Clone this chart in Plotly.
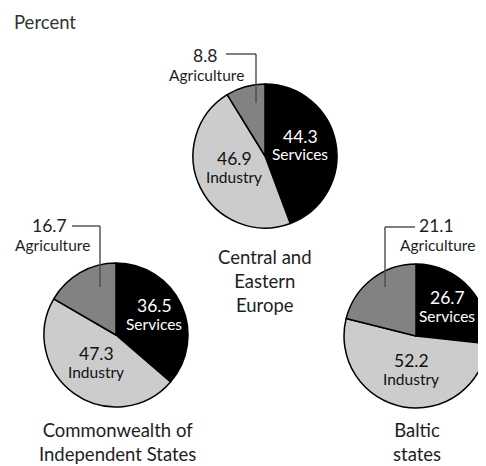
import plotly.graph_objects as go

W, H = 486, 466
OFF = 8  # page body margin offset of the plot div
sectors = ["Services", "Industry", "Agriculture"]
regions = ["Central and<br>Eastern<br>Europe", "Commonwealth of<br>Independent States", "Baltic<br>states"]
services = [44.3, 36.5, 26.7]
industry = [46.9, 47.3, 52.2]
agriculture = [8.8, 16.7, 21.1]
colors = ["#000000", "#cccccc", "#828282"]

FONT = "Lato"
TXT = "#1e1e1e"
# layout (viewport pixels): pie centers, radius
centers = [(265, 156), (116, 335), (416, 336)]
R = 72


def px(x):
    return (x - OFF) / W


def py(y):
    return 1 - (y - OFF) / H


fig = go.Figure()
for i, reg in enumerate(regions):
    cx, cy = centers[i]
    fig.add_trace(go.Pie(
        labels=sectors,
        values=[services[i], industry[i], agriculture[i]],
        sort=False, direction="clockwise", rotation=0,
        marker=dict(colors=colors, line=dict(color="#000000", width=1.5)),
        textinfo="none", hoverinfo="label+value", showlegend=False,
        domain=dict(x=[px(cx - R), px(cx + R)], y=[py(cy + R), py(cy - R)]),
    ))

annotations = []
shapes = []


def txt(x, y, s, size=15.5, color=TXT, xanchor="center"):
    annotations.append(dict(x=px(x), y=py(y), xref="paper", yref="paper", text=s,
                            showarrow=False, xanchor=xanchor, yanchor="middle",
                            font=dict(family=FONT, size=size, color=color)))


def line(pts):
    for (x0, y0), (x1, y1) in zip(pts[:-1], pts[1:]):
        shapes.append(dict(type="line", xref="paper", yref="paper",
                           x0=px(x0), y0=py(y0), x1=px(x1), y1=py(y1),
                           line=dict(color="#4a4a4a", width=1.4)))


NUM = 17.5
LAB = 15.5
# label positions (viewport pixels)
svc_pos = [(300, 136), (154, 305), (447, 297)]
ind_pos = [(234, 158), (96, 353), (411, 360)]
for i in range(3):
    sx, sy = svc_pos[i]
    txt(sx, sy, f"{services[i]:.1f}", size=NUM, color="#ffffff")
    txt(sx, sy + 18.5, "Services", size=LAB, color="#ffffff")
    ix, iy = ind_pos[i]
    txt(ix, iy, f"{industry[i]:.1f}", size=NUM, color="#111111")
    txt(ix, iy + 18.5, "Industry", size=LAB, color="#111111")

# agriculture callouts
txt(219, 55, f"{agriculture[0]:.1f}", size=NUM, xanchor="right")
txt(206, 75, "Agriculture", size=LAB)
line([(226, 54), (256, 54), (256, 103)])

txt(69, 225, f"{agriculture[1]:.1f}", size=NUM, xanchor="right")
txt(52, 245, "Agriculture", size=LAB)
line([(72, 226), (100, 226), (100, 287)])

txt(417, 225, f"{agriculture[2]:.1f}", size=NUM, xanchor="left")
txt(437, 245, "Agriculture", size=LAB)
line([(415, 227), (385, 227), (385, 287)])

# region titles
TIT = 18.5
txt(265, 281, regions[0], size=TIT)
txt(117, 442, regions[1], size=TIT)
txt(417, 442, regions[2], size=TIT)

txt(12, 22, "Percent", size=TIT, color="#333333", xanchor="left")

fig.update_layout(width=W, height=H, margin=dict(l=0, r=0, t=0, b=0),
                  paper_bgcolor="white", plot_bgcolor="white",
                  font=dict(family=FONT), annotations=annotations, shapes=shapes)
fig.write_html("out.html")
